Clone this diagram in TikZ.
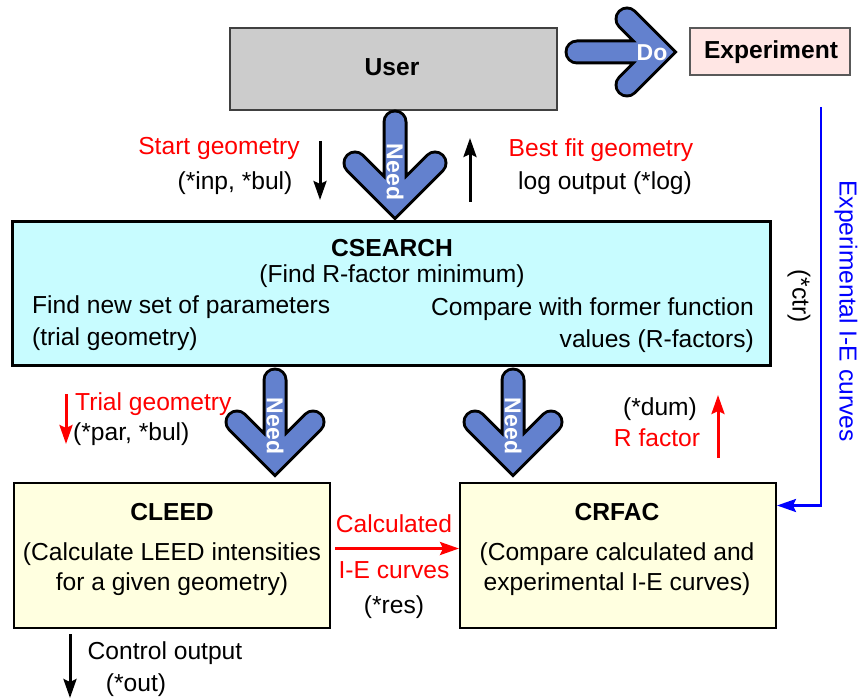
\documentclass[tikz,border=0pt]{standalone}
\usepackage{fontspec}
\setmainfont{Liberation Sans}
\usepackage{xcolor}
\usetikzlibrary{arrows.meta}

\definecolor{needblue}{RGB}{99,129,206}
\definecolor{usergray}{RGB}{204,204,204}
\definecolor{exppink}{RGB}{255,230,228}
\definecolor{searchcyan}{RGB}{200,252,255}
\definecolor{progyellow}{RGB}{255,255,224}

\begin{document}
\begin{tikzpicture}[x=1pt, y=-1pt,
    every node/.style={font=\fontsize{24.6}{28}\selectfont, inner sep=0pt},
    userbox/.style={draw=black!75, line width=1.5pt, fill=usergray, minimum width=327pt, minimum height=82pt},
    expbox/.style={draw=black!65, line width=1.2pt, fill=exppink, minimum width=160pt, minimum height=47pt},
    searchbox/.style={draw=black, line width=3pt, fill=searchcyan, minimum width=758pt, minimum height=143pt},
    progbox/.style={draw=black, line width=2pt, fill=progyellow, minimum width=316pt, minimum height=145pt},
    flow/.style={line width=3pt, -{Stealth[length=19pt, width=13pt, inset=3pt]}},
    redflow/.style={flow, draw=red},
    bigedge/.style={draw=black, line width=25pt, line cap=round},
    bigfill/.style={draw=needblue, line width=19pt, line cap=round},
    bigtext/.style={text=white, font=\fontsize{23}{26}\selectfont\bfseries}]
   \useasboundingbox (0,0) rectangle (866,700);

   % boxes
   \node[userbox] (user) at (393.5,69) {};
   \node[anchor=base] (usertext) at (392,76) {\textbf{User}};
   \node[expbox] (exp) at (770,51.5) {};
   \node[anchor=base] (exptext) at (771,59) {\textbf{Experiment}};
   \node[searchbox] (csearch) at (391,293.5) {};
   \node[progbox] (cleed) at (172,555.5) {};
   \node[progbox] (crfac) at (618,555.5) {};

   % big arrows
   \draw[bigedge] (577,52) -- (658,52) (627,19) -- (660,52) -- (627,85);
   \draw[bigedge] (395,122) -- (395,200) (355,163) -- (395,203) -- (435,163);
   \draw[bigedge] (275,380) -- (275,456) (237,422) -- (275,460) -- (313,422);
   \draw[bigedge] (513,380) -- (513,456) (475,422) -- (513,460) -- (551,422);
   \draw[bigfill] (577,52) -- (658,52) (627,19) -- (660,52) -- (627,85);
   \draw[bigfill] (395,122) -- (395,200) (355,163) -- (395,203) -- (435,163);
   \draw[bigfill] (275,380) -- (275,456) (237,422) -- (275,460) -- (313,422);
   \draw[bigfill] (513,380) -- (513,456) (475,422) -- (513,460) -- (551,422);
   \node[bigtext, anchor=base] (dotext) at (652,61) {Do};
   \node[bigtext, rotate=-90] (needtop) at (395,172) {Need};
   \node[bigtext, rotate=-90] (needleft) at (275,426) {Need};
   \node[bigtext, rotate=-90] (needright) at (513,426) {Need};

   % CSEARCH texts
   \node[anchor=base] (cstitle) at (392,257) {\textbf{CSEARCH}};
   \node[anchor=base] (csmin) at (392,282) {(Find R-factor minimum)};
   \node[anchor=base west] (csnew) at (32,313) {Find new set of parameters};
   \node[anchor=base west] (cstrial) at (32,345) {(trial geometry)};
   \node[anchor=base east] (cscomp) at (754,315) {Compare with former function};
   \node[anchor=base east] (csval) at (754,347) {values (R-factors)};

   % CLEED and CRFAC texts
   \node[anchor=base] (cleedtitle) at (172,520) {\textbf{CLEED}};
   \node[anchor=base] (cleedone) at (172,560) {(Calculate LEED intensities};
   \node[anchor=base] (cleedtwo) at (172,590) {for a given geometry)};
   \node[anchor=base] (crfactitle) at (617,520) {\textbf{CRFAC}};
   \node[anchor=base] (crfacone) at (617,560) {(Compare calculated and};
   \node[anchor=base] (crfactwo) at (617,590) {experimental I-E curves)};

   % labels
   \node[anchor=base, text=red] (startgeo) at (219,155) {Start geometry};
   \node[anchor=base] (startfiles) at (235,190) {(*inp, *bul)};
   \node[anchor=base, text=red] (bestgeo) at (601,157) {Best fit geometry};
   \node[anchor=base] (logfiles) at (605,190) {log output (*log)};
   \node[anchor=base west, text=red] (trialgeo) at (75,410) {Trial geometry};
   \node[anchor=base west] (trialfiles) at (73,440) {(*par, *bul)};
   \node[anchor=base] (dumfiles) at (660,415) {(*dum)};
   \node[anchor=base, text=red] (rfac) at (657,446) {R factor};
   \node[anchor=base, text=red] (calctext) at (394,532) {Calculated};
   \node[anchor=base, text=red] (curvetext) at (394,578) {I-E curves};
   \node[anchor=base] (resfiles) at (394,613) {(*res)};
   \node[anchor=base] (ctrlout) at (165,659) {Control output};
   \node[anchor=base] (outfiles) at (136,691) {(*out)};
   \node[rotate=-90] (ctrfiles) at (799,296) {(*ctr)};
   \node[rotate=-90, text=blue] (exptcurves) at (846,311) {Experimental I-E curves};

   % end points
   \coordinate (sgtop) at (320,141);
   \coordinate (sgbot) at (320,200);
   \coordinate (bfbot) at (470,202);
   \coordinate (bftop) at (470,138);
   \coordinate (tgtop) at (66,394);
   \coordinate (tgbot) at (66,444);
   \coordinate (rfbot) at (718,458);
   \coordinate (rftop) at (718,395);
   \coordinate (cotop) at (70,634);
   \coordinate (cobot) at (70,698);
   \coordinate (exptop) at (821,107);

   % connectors
   \draw[flow] (sgtop) -- (sgbot);
   \draw[flow] (bfbot) -- (bftop);
   \draw[redflow] (tgtop) -- (tgbot);
   \draw[redflow] (rfbot) -- (rftop);
   \draw[flow] (cotop) -- (cobot);
   \draw[redflow, shorten <=4pt] ([yshift=7pt]cleed.east) -- ([yshift=7pt]crfac.west);
   \draw[flow, draw=blue, line width=2.6pt] (exptop) |- ([yshift=50pt]crfac.east);
\end{tikzpicture}
\end{document}
